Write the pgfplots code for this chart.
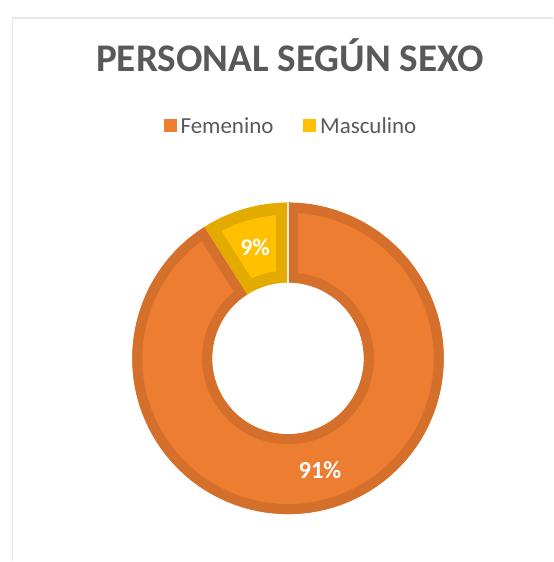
\documentclass[border=0pt]{standalone}
\usepackage{pgfplots}
\pgfplotsset{compat=1.18}
\usepackage{pgfplotstable}
\usepackage{fontspec}
\setmainfont{Carlito}
\usetikzlibrary{calc}

\definecolor{fem}{HTML}{ED7D31}
\definecolor{femdark}{HTML}{D46F2C}
\definecolor{mas}{HTML}{FFC000}
\definecolor{masdark}{HTML}{E3AB00}
\definecolor{txt}{HTML}{595959}

% personal segun sexo (%)
\pgfplotstableread{
sexo value
Femenino 91
Masculino 9
}\datos

\def\Rout{78pt}
\def\Rin{38pt}

% sector: start angle, end angle, fill, border, border line width
\newcommand\sector[5]{%
  \fill[#3] ($(C)+(#1:\Rout)$) arc[start angle=#1,end angle=#2,radius=\Rout]
    -- ($(C)+(#2:\Rin)$) arc[start angle=#2,end angle=#1,radius=\Rin] -- cycle;
  \begin{scope}
    \clip ($(C)+(#1:\Rout)$) arc[start angle=#1,end angle=#2,radius=\Rout]
      -- ($(C)+(#2:\Rin)$) arc[start angle=#2,end angle=#1,radius=\Rin] -- cycle;
    \draw[#4, line width=#5] ($(C)+(#1:\Rout)$) arc[start angle=#1,end angle=#2,radius=\Rout]
      -- ($(C)+(#2:\Rin)$) arc[start angle=#2,end angle=#1,radius=\Rin] -- cycle;
  \end{scope}}

\begin{document}
\pgfplotstablegetelem{1}{value}\of\datos
\pgfmathsetmacro\am{90+3.6*\pgfplotsretval}

\begin{tikzpicture}
\begin{axis}[
    width=274.5pt, height=281pt, scale only axis,
    xmin=0, xmax=549, ymin=0, ymax=562, y dir=reverse,
    hide axis, clip=false,
    legend columns=2,
    legend image code/.code={\fill[#1] (0pt,-2.5pt) rectangle (6pt,3.5pt);},
    legend style={at={(axis cs:288,127)}, anchor=center, draw=none, fill=none,
        font=\fontsize{11.5}{13}\selectfont, text=txt,
        /tikz/every even column/.append style={column sep=13pt}},
]
\addlegendimage{fem}
\addlegendentry{Femenino}
\addlegendimage{mas}
\addlegendentry{Masculino}

% lienzo completo
\path (axis cs:0,0) rectangle (axis cs:549,562);
% marco
\draw[black!10, line width=1pt] (axis cs:8,562) -- (axis cs:8,18) -- (axis cs:549,18);

\node[anchor=base, text=txt, font=\fontsize{19.6}{22}\selectfont\bfseries]
    at (axis cs:286,72) {PERSONAL SEGÚN SEXO};

\coordinate (C) at (axis cs:284,359);
\sector{\am}{450}{fem}{femdark}{10pt}
\sector{90}{\am}{mas}{masdark}{12pt}
\draw[white!85!fem, line width=0.6pt] ($(C)+(90:\Rin)$) -- ($(C)+(90:\Rout)$);

\node[anchor=base, text=white, font=\fontsize{12}{14}\selectfont\bfseries]
    at (axis cs:251,256) {9\%};
\node[anchor=base, text=white, font=\fontsize{12.3}{14}\selectfont\bfseries]
    at (axis cs:316,479) {91\%};
\end{axis}
\end{tikzpicture}
\end{document}
